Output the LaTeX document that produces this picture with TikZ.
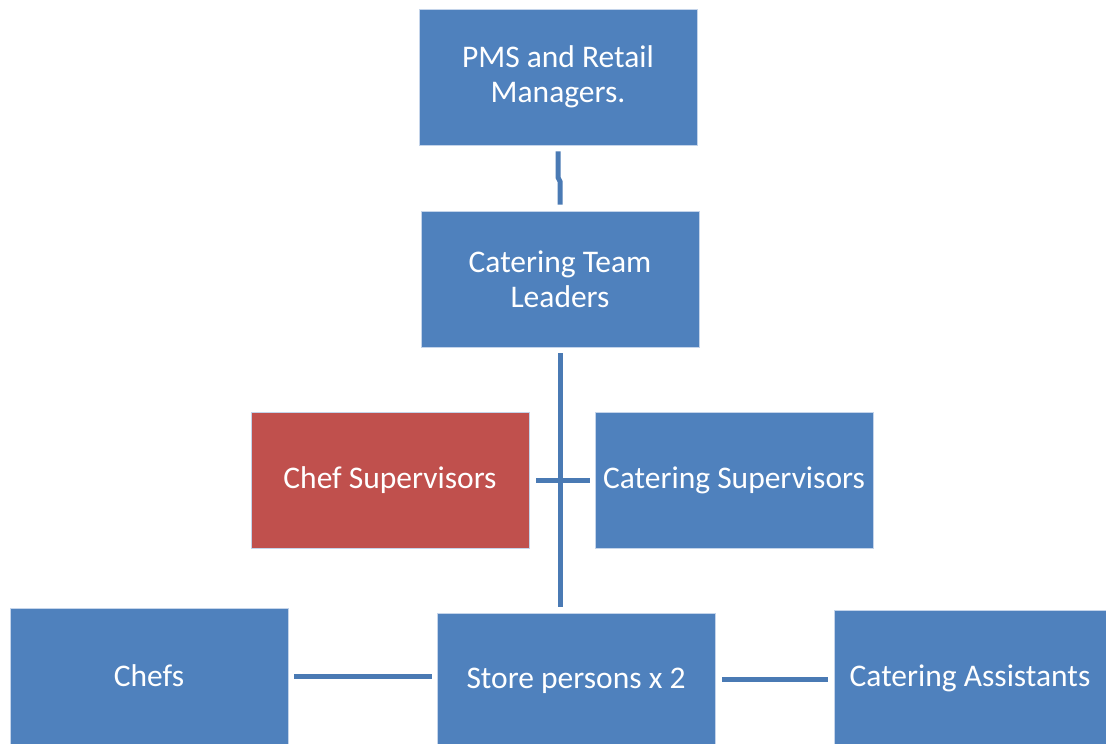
\documentclass[tikz,border=0pt]{standalone}
\usepackage{fontspec}
\setmainfont{Carlito}
\definecolor{boxblue}{RGB}{79,129,189}
\definecolor{boxred}{RGB}{192,80,77}
\definecolor{linkblue}{RGB}{74,122,180}
\definecolor{rim}{RGB}{196,212,234}
\begin{document}
\begin{tikzpicture}[x=1pt,y=-1pt,
      every node/.style={rectangle,draw=rim,line width=0.8pt,fill=boxblue,
        text=white,align=center,inner sep=2pt,
        minimum width=278pt,minimum height=136pt,
        font=\fontsize{31.5}{35}\selectfont},
      redbox/.style={fill=boxred},
      link/.style={draw=linkblue,line width=5pt,shorten <=6pt,shorten >=6pt}]
      \useasboundingbox (0,0) rectangle (1106,744);
      \node (pms) at (558,77) {PMS and Retail\\Managers.};
      \node (ctl) at (560,279) {Catering Team\\Leaders};
      \node[redbox] (chefsup) at (390,480) {Chef Supervisors};
      \node (catsup) at (734,480) {Catering Supervisors};
      \node (chefs) at (149,676) {Chefs};
      \node (store) at (576,681) {Store persons x 2};
      \node[minimum width=272pt] (assist) at (970,678) {Catering Assistants};
      % links
      \draw[link,shorten >=0pt] (pms.south) -- ++(0,32) -- ++(2,4) -- ([yshift=6pt]ctl.north);
      \draw[link] (ctl.south) -- (ctl.south |- store.north);
      \draw[link,shorten <=7pt,shorten >=5pt] (chefsup) -- (catsup);
      \draw[link,shorten >=5pt] (chefs.east) -- (chefs.east -| store.west);
      \draw[link,shorten <=7pt] ([yshift=2pt]store.east) -- ([yshift=2pt]store.east -| assist.west);
\end{tikzpicture}
\end{document}
